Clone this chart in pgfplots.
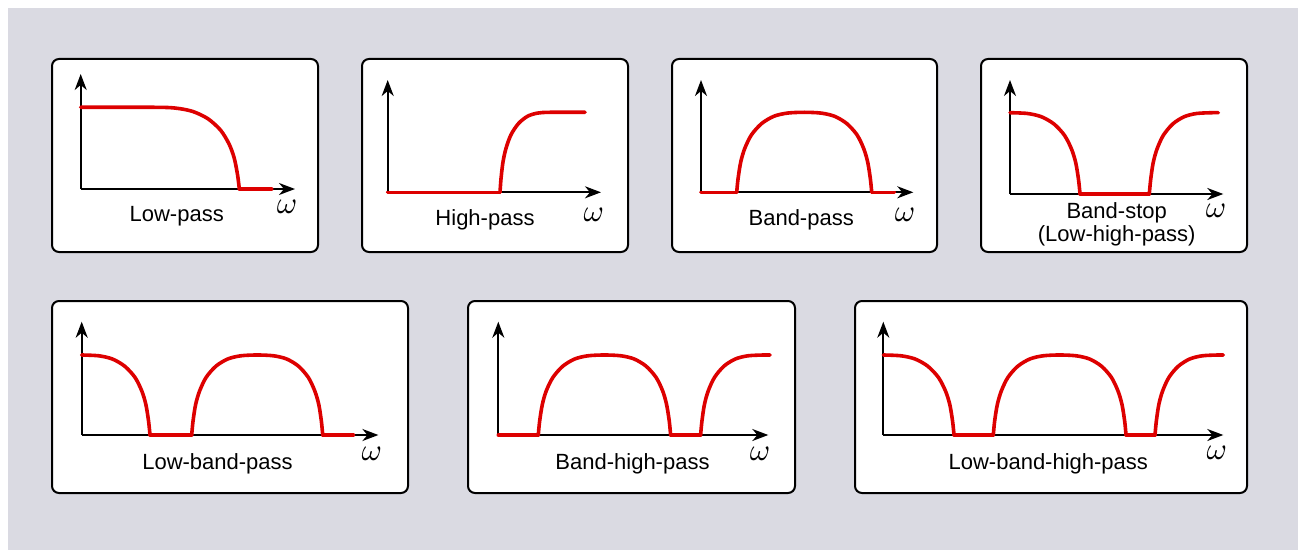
\documentclass[border=0pt]{standalone}
\usepackage{fontspec}
\setmainfont{Liberation Sans}
\usepackage{pgfplots}
\pgfplotsset{compat=1.18}
\usetikzlibrary{arrows.meta}
\definecolor{bggrey}{HTML}{DADAE2}
\definecolor{sigred}{HTML}{DD0000}

\pgfplotsset{
  panel/.style={
    x=1pt, y=1pt, xmin=0, ymin=0,
    axis lines=left, ticks=none, clip=false, anchor=south west,
    axis line style={line width=1.9pt, -{Stealth[length=16pt, width=12pt, inset=5pt]}},
  },
  sig/.style={color=sigred, line width=3.6pt, line cap=round, no markers},
}

\begin{document}
\begin{tikzpicture}[x=1pt, y=1pt,
    lbl/.style={font=\fontsize{22pt}{26pt}\selectfont, inner sep=0pt, anchor=base, text=black},
    om/.style={inner sep=0pt, scale=3.1, transform shape}]
\fill[white] (0,0) rectangle (1298,550);
\fill[bggrey] (8,0) rectangle (1298,542);
\foreach \a/\b/\c/\d in {52/298/318/491, 362/298/628/491, 672/298/937/491,
    981/298/1247/491, 52/57/408/249, 468/57/795/249, 855/57/1247/249}
  \draw[line width=2pt, fill=white, rounded corners=7pt] (\a,\b) rectangle (\c,\d);

% low-pass
\begin{axis}[panel, at={(80.7,361)}, xmax=214.3, ymax=115]
\addplot[sig, smooth] coordinates {(0,81.7) (73.6,81.7) (94.85,80.9) (111.85,77.6) (127.15,70.3)
  (139.9,58.8) (148.4,44.9) (153.5,31.0) (156.9,13.9) (158.6,0)};
\addplot[sig] coordinates {(158.6,0) (191,0)};
\end{axis}

% high-pass
\begin{axis}[panel, at={(387.7,357.7)}, xmax=213.3, ymax=112.3]
\addplot[sig] coordinates {(0,0) (112.3,0)};
\addplot[sig, smooth] coordinates {(112.3,0) (113.3,13.6) (115.3,30.4) (118.3,44) (123.3,57.6)
  (130.8,68.8) (139.8,76) (149.8,79.2) (162.3,80) (197.3,80)};
\end{axis}

% band-pass
\begin{axis}[panel, at={(701,357.7)}, xmax=212.3, ymax=112.3]
\addplot[sig] coordinates {(0,0) (35.7,0)};
\addplot[sig, smooth] coordinates {(35.7,0) (37.05,13.6) (39.75,30.4) (43.8,44) (50.55,57.6)
  (60.68,68.8) (72.8,76) (86.3,79.2) (103.2,80) (120.1,79.2) (133.6,76) (145.7,68.8)
  (155.9,57.6) (162.6,44) (166.65,30.4) (169.35,13.6) (170.7,0)};
\addplot[sig] coordinates {(170.7,0) (193.3,0)};
\end{axis}

% band-stop
\begin{axis}[panel, at={(1010,356)}, xmax=213.3, ymax=114]
\addplot[sig, smooth] coordinates {(0,81.3) (17.5,80.5) (31.5,77.2) (44.1,69.9) (54.6,58.5)
  (61.6,44.7) (65.8,30.9) (68.6,13.8) (70,0)};
\addplot[sig] coordinates {(70,0) (139.3,0)};
\addplot[sig, smooth] coordinates {(139.3,0) (140.6,13.8) (143.1,30.9) (146.9,44.7) (153.2,58.5)
  (162.6,69.9) (173.95,77.2) (186.55,80.5) (202.3,81.3) (208.3,81.3)};
\end{axis}

% low-band-pass
\begin{axis}[panel, at={(81.7,115)}, xmax=296.7, ymax=113.3]
\addplot[sig, smooth] coordinates {(0,80) (17.1,79.2) (30.7,76) (43.0,68.8) (53.3,57.6)
  (60.1,44) (64.2,30.4) (66.9,13.6) (68.3,0)};
\addplot[sig] coordinates {(68.3,0) (110,0)};
\addplot[sig, smooth] coordinates {(110,0) (111.3,13.6) (113.9,30.4) (117.9,44) (124.4,57.6)
  (134.2,68.8) (146.0,76) (159.1,79.2) (175.5,80) (191.9,79.2) (205.0,76) (216.8,68.8)
  (226.6,57.6) (233.1,44) (237.1,30.4) (239.7,13.6) (241,0)};
\addplot[sig] coordinates {(241,0) (271.7,0)};
\end{axis}

% band-high-pass
\begin{axis}[panel, at={(498.3,115)}, xmax=270, ymax=113.3]
\addplot[sig] coordinates {(0,0) (40,0)};
\addplot[sig, smooth] coordinates {(40,0) (41.3,13.6) (44.0,30.4) (47.9,44) (54.6,57.6)
  (64.5,68.8) (76.4,76) (89.6,79.2) (106.15,80) (122.7,79.2) (135.9,76) (147.8,68.8)
  (157.75,57.6) (164.4,44) (168.3,30.4) (171.0,13.6) (172.3,0)};
\addplot[sig] coordinates {(172.3,0) (202.3,0)};
\addplot[sig, smooth] coordinates {(202.3,0) (203.6,13.6) (206.1,30.4) (209.9,44) (216.2,57.6)
  (225.6,68.8) (237,76) (249.6,79.2) (265.3,80) (271.7,80)};
\end{axis}

% low-band-high-pass
\begin{axis}[panel, at={(883.3,115)}, xmax=340, ymax=113.3]
\addplot[sig, smooth] coordinates {(0,80) (17.7,79.2) (31.8,76) (44.5,68.8) (55.1,57.6)
  (62.2,44) (66.5,30.4) (69.3,13.6) (70.7,0)};
\addplot[sig] coordinates {(70.7,0) (110,0)};
\addplot[sig, smooth] coordinates {(110,0) (111.3,13.6) (114.0,30.4) (118.0,44) (124.6,57.6)
  (134.5,68.8) (146.5,76) (159.8,79.2) (176.35,80) (192.9,79.2) (206.2,76) (218.2,68.8)
  (228.1,57.6) (234.7,44) (238.7,30.4) (241.4,13.6) (242.7,0)};
\addplot[sig] coordinates {(242.7,0) (271.7,0)};
\addplot[sig, smooth] coordinates {(271.7,0) (273.0,13.6) (275.5,30.4) (279.3,44) (285.6,57.6)
  (295.0,68.8) (306.4,76) (319.0,79.2) (334.7,80) (340,80)};
\end{axis}

% captions
\node[lbl] at (176.7,329) {Low-pass};
\node[lbl] at (485,324.7) {High-pass};
\node[lbl] at (801.2,324.3) {Band-pass};
\node[lbl] at (1116.7,331.7) {Band-stop};
\node[lbl] at (1116.7,308.3) {(Low-high-pass)};
\node[lbl] at (217.5,80.5) {Low-band-pass};
\node[lbl] at (632.5,80.5) {Band-high-pass};
\node[lbl] at (1048.3,80.5) {Low-band-high-pass};
\node[om] at (287,343) {$\omega$};
\node[om] at (593.8,335.5) {$\omega$};
\node[om] at (905,335.2) {$\omega$};
\node[om] at (1216,339) {$\omega$};
\node[om] at (371.7,96.2) {$\omega$};
\node[om] at (760,96.2) {$\omega$};
\node[om] at (1216.7,97) {$\omega$};

\pgfresetboundingbox
\path[use as bounding box] (0,0) rectangle (1298,550);
\end{tikzpicture}
\end{document}
